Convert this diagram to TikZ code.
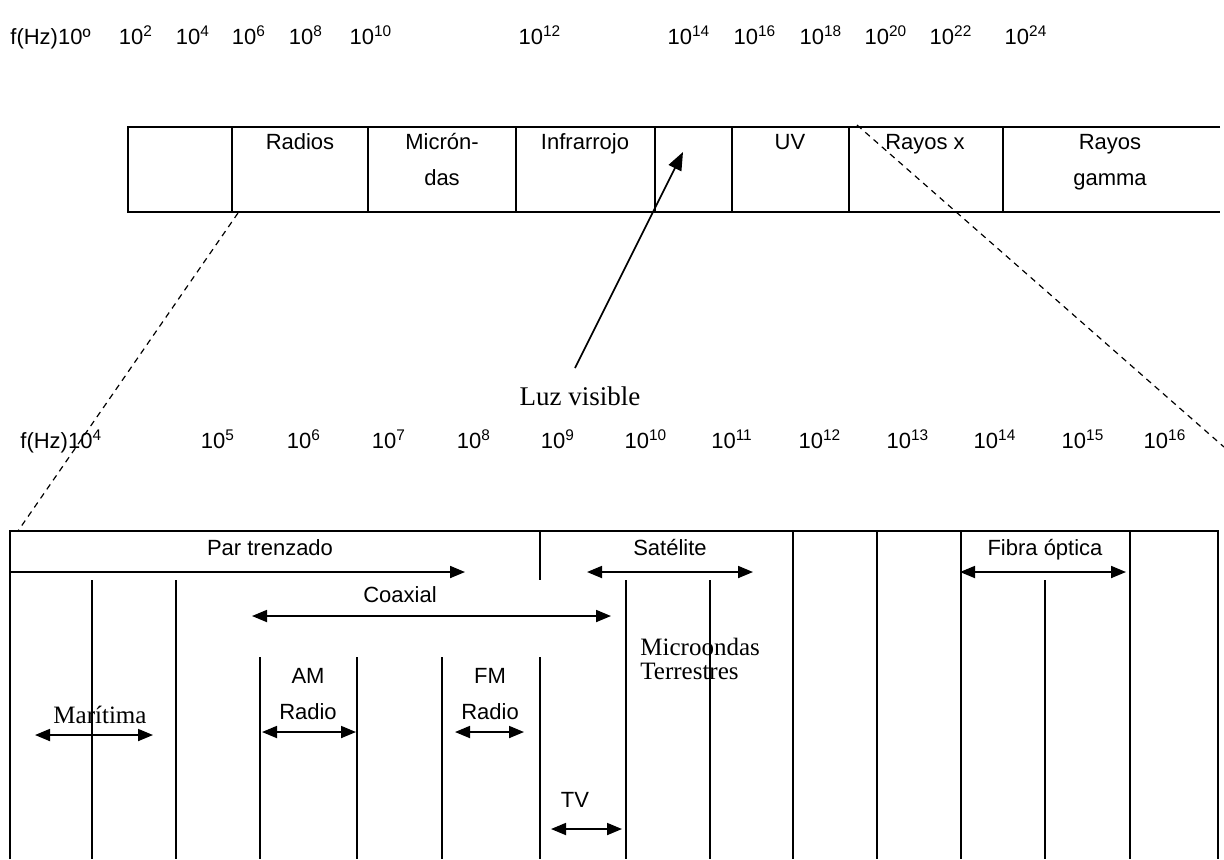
\documentclass[tikz,border=0pt]{standalone}
\usepackage{fontspec}
\setmainfont{Liberation Sans}
\newfontfamily\timesfont{Liberation Serif}
\usetikzlibrary{arrows.meta}

\newcommand{\pot}[1]{10\textsuperscript{#1}}

\begin{document}
\begin{tikzpicture}[x=0.5pt, y=-0.5pt,
    every node/.style={inner sep=0pt, font=\fontsize{11}{13}\selectfont},
    freq/.style={anchor=base},
    txt/.style={anchor=base},
    serif/.style={anchor=base, font=\timesfont\fontsize{12.5}{14}\selectfont},
    rule/.style={line width=0.9pt},
    link/.style={line width=0.6pt, dash pattern=on 3pt off 2.5pt},
    oneway/.style={line width=0.9pt, -{Triangle[length=7.5pt,width=6pt]}},
    twoway/.style={line width=0.9pt, {Triangle[length=7.5pt,width=6pt]}-{Triangle[length=7.5pt,width=6pt]}}]

    \useasboundingbox (0,0) rectangle (1224,859);

    % upper scale
    \node[freq, anchor=base west] (fa) at (10,44) {f(Hz)10º};
    \foreach \e/\x in {2/136, 4/193, 6/249, 8/306, 10/371, 12/540, 14/689, 16/755, 18/821, 20/886, 22/951, 24/1026}
        \node[freq] (a\e) at (\x,44) {\pot{\e}};

    % upper box
    \draw[rule] (1220,127) -- (128,127) -- (128,212) -- (1220,212);
    \foreach \x in {232, 368, 516, 655, 732, 849, 1003}
        \draw[rule] (\x,127) -- (\x,212);
    \node[txt] (radios) at (300,149) {Radios};
    \node[txt] (micA) at (442,149) {Micrón-};
    \node[txt] (micB) at (442,185) {das};
    \node[txt] (infra) at (585,149) {Infrarrojo};
    \node[txt] (uv) at (790,149) {UV};
    \node[txt] (rayx) at (925,149) {Rayos x};
    \node[txt] (gamA) at (1110,149) {Rayos};
    \node[txt] (gamB) at (1110,185) {gamma};

    % visible light
    \coordinate (vis) at (683,152);
    \coordinate (visfoot) at (575,368);
    \node[serif, font=\timesfont\fontsize{13.5}{15}\selectfont] (luz) at (580,405) {Luz visible};
    \draw[line width=0.8pt, -{Triangle[length=9pt,width=7pt]}] (visfoot) -- (vis);

    % zoom lines
    \coordinate (zl0) at (238,213);
    \coordinate (zl1) at (18,531);
    \coordinate (zr0) at (857,125);
    \coordinate (zr1) at (1224,447);
    \draw[link] (zl0) -- (zl1);
    \draw[link] (zr0) -- (zr1);

    % lower scale
    \node[freq, anchor=base west] (fb) at (20,448) {f(Hz)\pot{4}};
    \foreach \e/\x in {5/218, 6/304, 7/389, 8/474, 9/558, 10/646, 11/732, 12/820, 13/908, 14/995, 15/1083, 16/1165}
        \node[freq] (b\e) at (\x,448) {\pot{\e}};

    % lower box
    \draw[rule] (10,859) -- (10,531) -- (1218,531) -- (1218,859);
    \foreach \x in {793, 877, 961, 1130}
        \draw[rule] (\x,531) -- (\x,859);
    \foreach \x in {92, 176, 626, 710, 1045}
        \draw[rule] (\x,580) -- (\x,859);
    \foreach \x in {260, 357, 442, 540}
        \draw[rule] (\x,657) -- (\x,859);
    \draw[rule] (540,531) -- (540,580);

    % media
    \node[txt] (par) at (270,555) {Par trenzado};
    \coordinate (par0) at (10,572);
    \coordinate (par1) at (465,572);
    \draw[oneway] (par0) -- (par1);

    \node[txt] (sat) at (670,555) {Satélite};
    \coordinate (sat0) at (587,572);
    \coordinate (sat1) at (753,572);
    \draw[twoway] (sat0) -- (sat1);

    \node[txt] (fib) at (1045,555) {Fibra óptica};
    \coordinate (fib0) at (960,572);
    \coordinate (fib1) at (1126,572);
    \draw[twoway] (fib0) -- (fib1);

    \node[txt] (coax) at (400,602) {Coaxial};
    \coordinate (coax0) at (252,616);
    \coordinate (coax1) at (611,616);
    \draw[twoway] (coax0) -- (coax1);

    \node[serif, anchor=base west] (mtA) at (640,655) {Microondas};
    \node[serif, anchor=base west] (mtB) at (640,679) {Terrestres};

    \node[txt] (amA) at (308,683) {AM};
    \node[txt] (amB) at (308,719) {Radio};
    \coordinate (am0) at (262,732);
    \coordinate (am1) at (356,732);
    \draw[twoway] (am0) -- (am1);

    \node[txt] (fmA) at (490,683) {FM};
    \node[txt] (fmB) at (490,719) {Radio};
    \coordinate (fm0) at (455,732);
    \coordinate (fm1) at (524,732);
    \draw[twoway] (fm0) -- (fm1);

    \node[serif] (mar) at (100,723) {Marítima};
    \coordinate (mar0) at (35,735);
    \coordinate (mar1) at (153,735);
    \draw[twoway] (mar0) -- (mar1);

    \node[txt] (tv) at (575,807) {TV};
    \coordinate (tv0) at (551,829);
    \coordinate (tv1) at (622,829);
    \draw[twoway] (tv0) -- (tv1);
\end{tikzpicture}
\end{document}
